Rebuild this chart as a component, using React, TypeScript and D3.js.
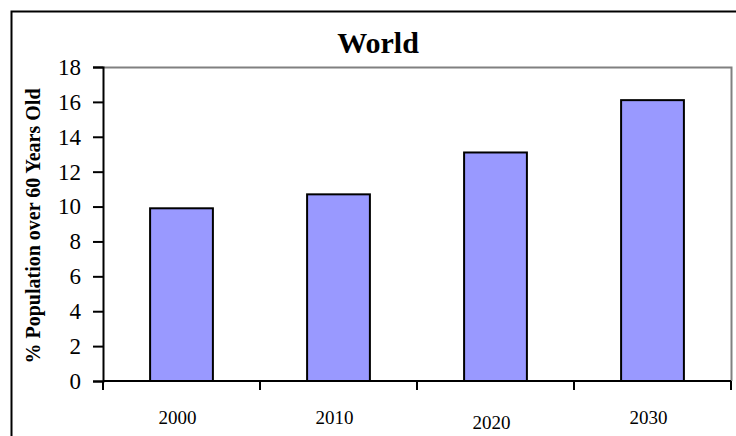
import React, { useEffect, useRef } from 'react';
import * as d3 from 'd3';

// values
const years = ['2000', '2010', '2020', '2030'];
const pctOver60 = [9.9, 10.7, 13.1, 16.1];
const yTicks = [0, 2, 4, 6, 8, 10, 12, 14, 16, 18];

const App = () => {
    const ref = useRef<SVGSVGElement>(null);

    useEffect(() => {
        const svg = d3.select(ref.current);
        svg.selectAll('*').remove();

        const left = 103, right = 731, top = 67, bottom = 381;
        const font = '"Liberation Serif", "Times New Roman", serif';

        // outer frame (cut off at right and bottom)
        svg.append('path')
            .attr('d', 'M11.5,436 L11.5,11.5 L736,11.5')
            .attr('fill', 'none')
            .attr('stroke', '#000')
            .attr('stroke-width', 2);

        const x = d3.scaleBand()
            .domain(years)
            .range([left, right])
            .paddingInner(0.6)
            .paddingOuter(0.3);

        const y = d3.scaleLinear()
            .domain([0, 18])
            .range([bottom, top]);

        // plot area border (gray top and right)
        svg.append('path')
            .attr('d', `M${left},${top + 0.5} L${right + 0.5},${top + 0.5} L${right + 0.5},${bottom}`)
            .attr('fill', 'none')
            .attr('stroke', '#808080')
            .attr('stroke-width', 2);

        svg.selectAll('.bar')
            .data(years)
            .enter().append('rect')
            .attr('class', 'bar')
            .attr('x', d => x(d)!)
            .attr('width', x.bandwidth())
            .attr('y', (d, i) => y(pctOver60[i]))
            .attr('height', (d, i) => bottom - y(pctOver60[i]))
            .attr('fill', '#9999ff')
            .attr('stroke', '#000')
            .attr('stroke-width', 2);

        // y axis
        const yAxis = svg.append('g')
            .attr('transform', `translate(${left},0)`)
            .call(d3.axisLeft(y).tickValues(yTicks).tickSize(10).tickPadding(12));
        yAxis.select('.domain').attr('stroke-width', 2);
        yAxis.selectAll('line').attr('stroke-width', 2);
        yAxis.selectAll('text')
            .attr('font-family', font)
            .attr('font-size', 23)
            .attr('fill', '#000');

        // x axis, ticks between categories
        const step = x.step();
        const tickPos = years.map((d, i) => left + step * (i + 1));
        const xg = svg.append('g');
        xg.append('line')
            .attr('x1', left).attr('x2', right)
            .attr('y1', bottom).attr('y2', bottom)
            .attr('stroke', '#000').attr('stroke-width', 2);
        xg.selectAll('.xtick')
            .data([left, ...tickPos])
            .enter().append('line')
            .attr('class', 'xtick')
            .attr('x1', d => d).attr('x2', d => d)
            .attr('y1', bottom).attr('y2', bottom + 9)
            .attr('stroke', '#000').attr('stroke-width', 2);
        xg.selectAll('.xlabel')
            .data(years)
            .enter().append('text')
            .attr('class', 'xlabel')
            .attr('x', d => x(d)! + x.bandwidth() / 2 - 4)
            .attr('y', (d, i) => (i === 2 ? 429 : 424))
            .attr('text-anchor', 'middle')
            .attr('font-family', font)
            .attr('font-size', 19)
            .text(d => d);

        // title
        svg.append('text')
            .attr('x', 378)
            .attr('y', 53)
            .attr('text-anchor', 'middle')
            .attr('font-family', font)
            .attr('font-weight', 'bold')
            .attr('font-size', 30)
            .text('World');

        // y axis title
        svg.append('text')
            .attr('transform', 'translate(40,226) rotate(-90)')
            .attr('text-anchor', 'middle')
            .attr('font-family', font)
            .attr('font-weight', 'bold')
            .attr('font-size', 20)
            .text('% Population over 60 Years Old');
    }, []);

    return (
        <svg ref={ref} width={736} height={436}
            style={{ position: 'absolute', left: 0, top: 0, background: '#fff' }} />
    );
};

export default App;
